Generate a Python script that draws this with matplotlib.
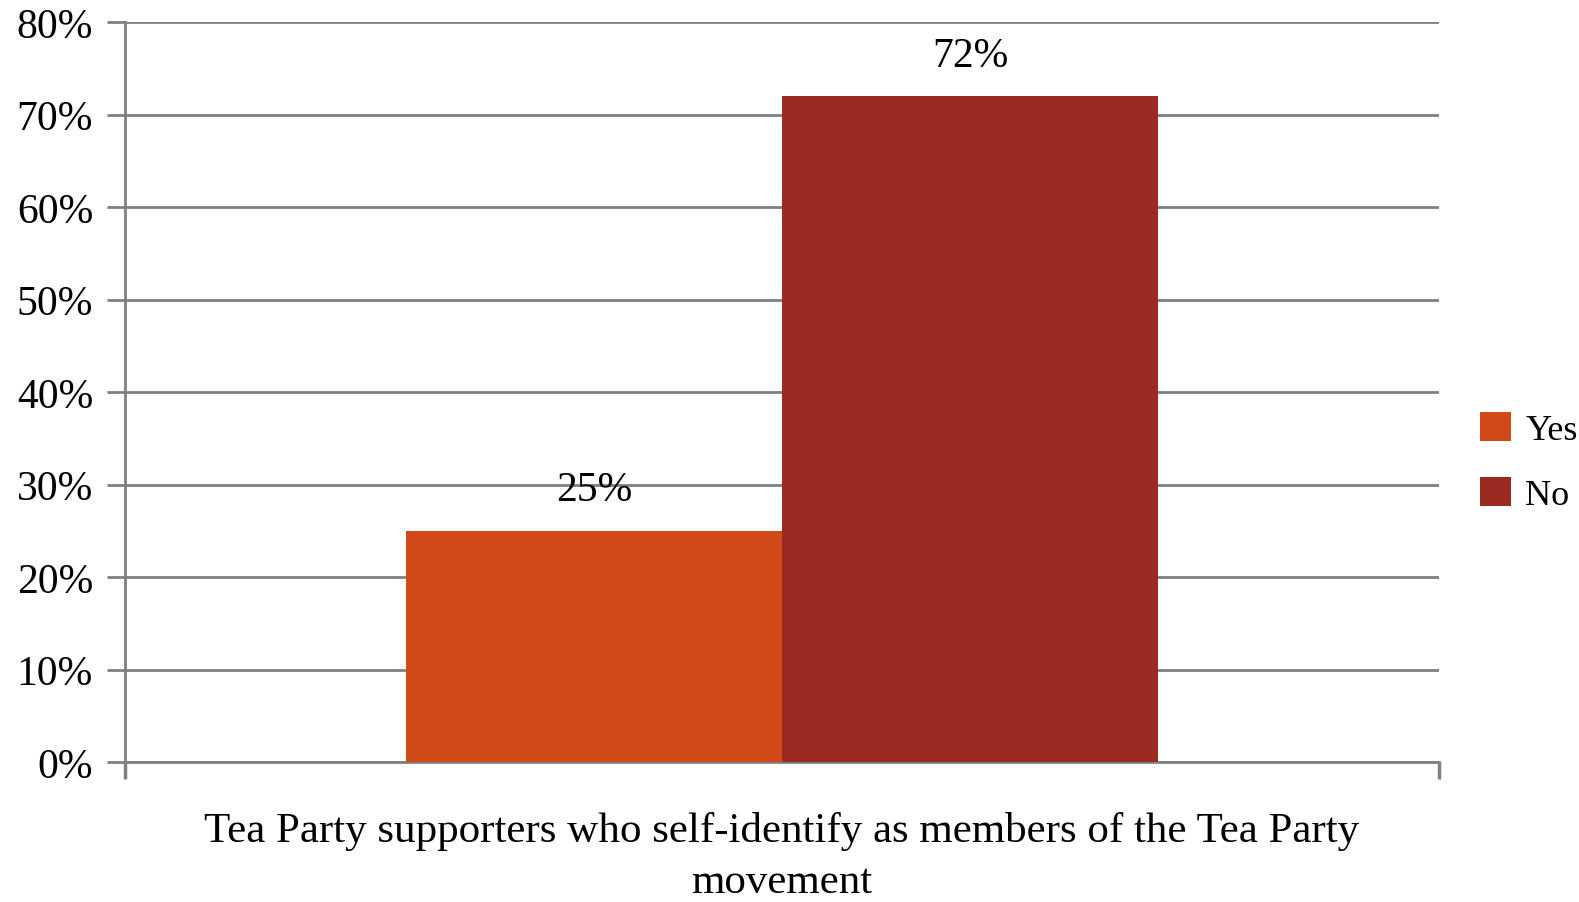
import numpy as np
import matplotlib.pyplot as plt

# Datos
series = ['Yes', 'No']
valores = [25, 72]
colores = ['#D24A1A', '#9B2B20']
categoria = 'Tea Party supporters who self-identify as members of the Tea Party\nmovement'
ticks_y = [0, 10, 20, 30, 40, 50, 60, 70, 80]

plt.rcParams['font.family'] = ['Liberation Serif', 'DejaVu Serif']

fig = plt.figure(figsize=(15.79, 9.03), dpi=100)
ax = fig.add_axes([125 / 1579, 1 - 763 / 903, (1439 - 125) / 1579, (763 - 23) / 903])

ancho = 0.286
posiciones = [-ancho / 2, ancho / 2]
for pos, val, col, nom in zip(posiciones, valores, colores, series):
    ax.bar(pos, val, width=ancho, color=col, label=nom, zorder=3)
    ax.text(pos, val + 2.3, f'{val}%', ha='center', va='bottom', fontsize=30)

ax.set_xlim(-0.5, 0.5)
ax.set_ylim(0, 80)
ax.set_yticks(ticks_y)
ax.set_yticklabels([f'{t}%' for t in ticks_y], fontsize=30)
ax.yaxis.grid(True, color='#808080', linewidth=2, zorder=0)
ax.tick_params(axis='y', length=13, width=2, color='#808080', pad=10)

ax.set_xticks([-0.5, 0.5])
ax.set_xticklabels(['', ''])
ax.tick_params(axis='x', length=12, width=2.5, color='#808080')
ax.set_xlabel(categoria, fontsize=31, labelpad=20, linespacing=1.4)

for lado in ['top', 'right']:
    ax.spines[lado].set_visible(False)
ax.spines['left'].set_color('#808080')
ax.spines['left'].set_linewidth(2)
ax.spines['bottom'].set_color('#808080')
ax.spines['bottom'].set_linewidth(2)

fig.legend(loc='center left', bbox_to_anchor=(1455 / 1579, 1 - 463 / 903), frameon=False,
           fontsize=26, handlelength=0.85, handleheight=0.85, handletextpad=0.4,
           labelspacing=0.85, borderaxespad=0.3)

fig.savefig('out.png', dpi=100)
